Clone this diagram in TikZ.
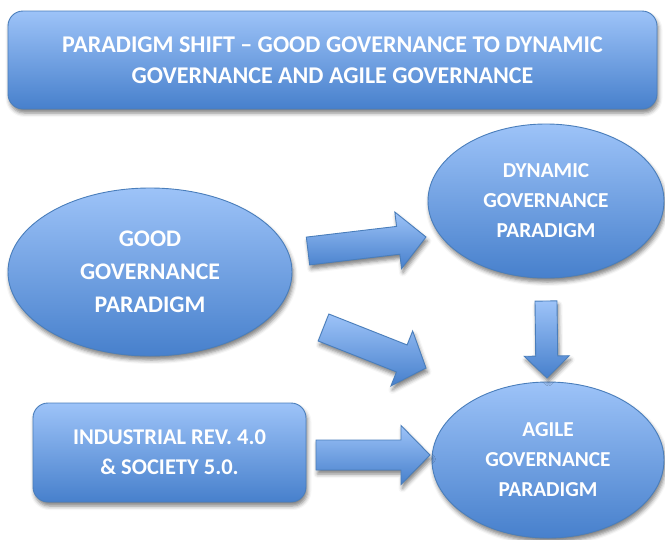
\documentclass[tikz,border=0pt]{standalone}
\usepackage{fontspec}
\setmainfont{Carlito}
\usetikzlibrary{shapes.geometric,calc,shadows.blur}

\definecolor{paleblue}{HTML}{9DC3F8}
\definecolor{deepblue}{HTML}{4780CC}
\definecolor{rimblue}{HTML}{4A7EBB}

\tikzset{
  blueshape/.style={draw=rimblue,line width=0.9pt,top color=paleblue,bottom color=deepblue,
    text=white,align=center,inner sep=0pt,
    blur shadow={shadow xshift=1.5pt,shadow yshift=-4pt,shadow blur radius=4pt,shadow opacity=50}},
  roundbox/.style={blueshape,rounded corners=15pt},
  oval/.style={blueshape,ellipse},
}

% block arrow: tail, tip, half shaft, half head, head length
\newcommand{\blockarrow}[5]{%
  \coordinate (hb) at ($(#2)!#5!(#1)$);
  \draw[blueshape] ($(#1)!#3!90:(#2)$) -- ($(hb)!#3!90:(#2)$) -- ($(hb)!#4!90:(#2)$)
    -- (#2) -- ($(hb)!#4!-90:(#2)$) -- ($(hb)!#3!-90:(#2)$) -- ($(#1)!#3!-90:(#2)$) -- cycle;
}

\begin{document}
\begin{tikzpicture}[x=1pt,y=-1pt]
  \useasboundingbox (0,0) rectangle (665,539);

  \node[roundbox,minimum width=649pt,minimum height=98pt,font=\fontsize{24}{31}\selectfont\bfseries]
    (title) at (332.5,60) {PARADIGM SHIFT -- GOOD GOVERNANCE TO DYNAMIC\\GOVERNANCE AND AGILE GOVERNANCE};

  \node[oval,minimum width=284pt,minimum height=168pt,font=\fontsize{23.8}{33}\selectfont\bfseries]
    (good) at (150,272) {GOOD\\GOVERNANCE\\PARADIGM};
  \node[oval,minimum width=236pt,minimum height=154pt,font=\fontsize{21.3}{30}\selectfont\bfseries]
    (dyn) at (546,201) {DYNAMIC\\GOVERNANCE\\PARADIGM};
  \node[oval,minimum width=232pt,minimum height=156pt,font=\fontsize{21.3}{30}\selectfont\bfseries]
    (agile) at (548,460) {AGILE\\GOVERNANCE\\PARADIGM};
  \node[roundbox,minimum width=273pt,minimum height=99pt,font=\fontsize{22.5}{30}\selectfont\bfseries]
    (indus) at (169.5,452.5) {INDUSTRIAL REV. 4.0\\\& SOCIETY 5.0.};

  \coordinate (gd1) at (308,251);   \coordinate (gd2) at (426,237);
  \coordinate (ga1) at (323.5,327.5); \coordinate (ga2) at (426,368);
  \coordinate (da1) at (546,301);   \coordinate (da2) at (547,378);
  \coordinate (ia1) at (316,455);   \coordinate (ia2) at (430,455);

  \blockarrow{gd1}{gd2}{14pt}{28.5pt}{28pt}
  \blockarrow{ga1}{ga2}{14.5pt}{29.5pt}{26pt}
  \blockarrow{da1}{da2}{11pt}{22.5pt}{22pt}
  \blockarrow{ia1}{ia2}{15pt}{29.5pt}{29pt}
\end{tikzpicture}
\end{document}
